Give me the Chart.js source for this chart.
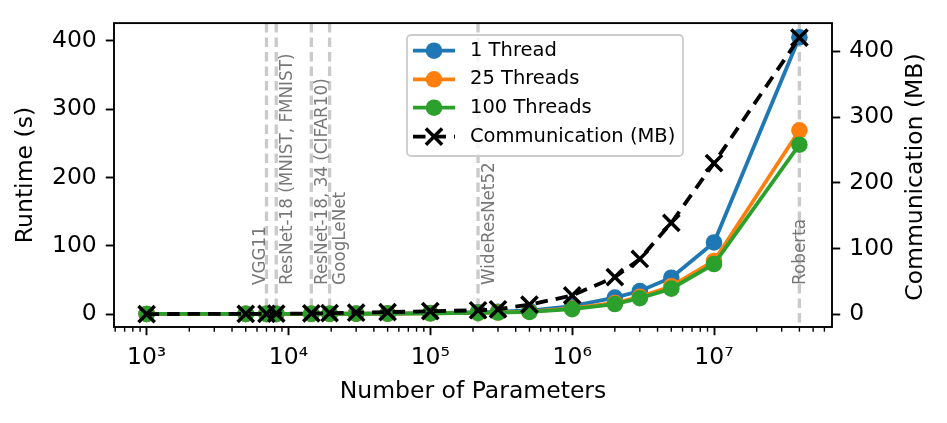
<!DOCTYPE html>
<html>
<head>
<meta charset="utf-8">
<script src="https://cdn.jsdelivr.net/npm/chart.js@4.4.1/dist/chart.umd.min.js"></script>
<style>
  html, body { margin: 0; padding: 0; background: #fff; }
  canvas { display: block; }
</style>
</head>
<body>
<canvas id="chart" width="947" height="423"></canvas>
<script>
// number of model parameters (x axis)
const params = [1000, 5000, 7000, 8200, 14500, 19500, 30000, 50000, 100000, 217000, 300000, 500000, 1000000, 2000000, 3000000, 5000000, 10000000, 40000000]

// runtime in seconds
const runtime1 = [0.5, 0.6, 0.6, 0.6, 0.7, 0.8, 0.9, 1.1, 1.8, 3.0, 3.8, 5.5, 12.0, 24.5, 34.0, 53.5, 105.0, 405.0]
const runtime25 = [0.5, 0.6, 0.6, 0.6, 0.7, 0.7, 0.8, 1.0, 1.4, 2.2, 2.8, 4.0, 8.5, 16.5, 25.5, 41.0, 78.0, 269.0]
const runtime100 = [0.5, 0.6, 0.6, 0.6, 0.7, 0.7, 0.8, 0.9, 1.3, 2.0, 2.5, 3.5, 7.5, 15.0, 23.5, 37.5, 73.5, 248.0]

// communication in MB (right axis)
const commMB = [0.2, 0.5, 0.6, 0.7, 1.1, 1.5, 2.2, 3.2, 4.5, 6.0, 7.5, 14.5, 28.5, 56.5, 84.0, 139.0, 230.0, 421.0]

// reference models marked with vertical lines
const modelNames = ["VGG11", "ResNet-18 (MNIST, FMNIST)", "ResNet-18, 34 (CIFAR10)", "GoogLeNet", "WideResNet52", "Roberta"]
const modelParams = [7000, 8200, 14500, 19500, 217000, 40000000]
const modelLabelAt = [5300, 8200, 14500, 19500, 217000, 33800000]
const modelLabelRuntime = 43

// ticks
const xTickValues = [1e3, 1e4, 1e5, 1e6, 1e7]
const xTickLabels = ["10³", "10⁴", "10⁵", "10⁶", "10⁷"]
const yTicks = [0, 100, 200, 300, 400]

const FONT = "DejaVu Sans"
Chart.defaults.font.family = FONT
Chart.defaults.color = "#000"

const toPoints = ys => params.map((x, i) => ({ x: x, y: ys[i] }))

// vertical dashed lines + rotated model names
const modelLines = {
  id: "modelLines",
  beforeDatasetsDraw(chart) {
    const { ctx, chartArea, scales } = chart
    ctx.save()
    ctx.strokeStyle = "rgba(128,128,128,0.42)"
    ctx.lineWidth = 3.3
    ctx.setLineDash([9.5, 5])
    modelParams.forEach(v => {
      const x = scales.x.getPixelForValue(v)
      ctx.beginPath()
      ctx.moveTo(x, chartArea.top)
      ctx.lineTo(x, chartArea.bottom)
      ctx.stroke()
    })
    ctx.setLineDash([])
    ctx.fillStyle = "#777"
    ctx.font = "16.8px '" + FONT + "'"
    ctx.textAlign = "left"
    ctx.textBaseline = "top"
    const y = scales.y.getPixelForValue(modelLabelRuntime)
    modelNames.forEach((name, i) => {
      // text box starts at the anchor, like a left-aligned rotated label
      const x = scales.x.getPixelForValue(modelLabelAt[i]) + 3
      ctx.save()
      ctx.translate(x, y)
      ctx.rotate(-Math.PI / 2)
      ctx.fillText(name, 0, 0)
      ctx.restore()
    })
    ctx.restore()
  }
}

// minor log ticks, frame, right axis title, legend box
const decorations = {
  id: "decorations",
  afterDraw(chart) {
    const { ctx, chartArea, scales } = chart
    const xs = scales.x
    ctx.save()

    // minor ticks
    ctx.strokeStyle = "#000"
    ctx.lineWidth = 1.4
    for (let e = 2; e <= 7; e++) {
      for (let k = 2; k <= 9; k++) {
        const v = k * Math.pow(10, e)
        if (v < xs.min || v > xs.max) continue
        const x = xs.getPixelForValue(v)
        ctx.beginPath()
        ctx.moveTo(x, chartArea.bottom)
        ctx.lineTo(x, chartArea.bottom + 4.7)
        ctx.stroke()
      }
    }

    // frame
    ctx.lineWidth = 1.9
    ctx.strokeRect(chartArea.left, chartArea.top, chartArea.right - chartArea.left, chartArea.bottom - chartArea.top)

    // right axis title (reads bottom to top)
    ctx.save()
    ctx.font = "23.5px '" + FONT + "'"
    ctx.fillStyle = "#000"
    ctx.textAlign = "center"
    ctx.textBaseline = "middle"
    ctx.translate(916, (chartArea.top + chartArea.bottom) / 2 + 2)
    ctx.rotate(-Math.PI / 2)
    ctx.fillText("Communication (MB)", 0, 0)
    ctx.restore()

    // legend
    const bx = 407, by = 35, bw = 276, bh = 121
    ctx.beginPath()
    ctx.roundRect(bx, by, bw, bh, 4)
    ctx.fillStyle = "rgba(255,255,255,0.8)"
    ctx.fill()
    ctx.strokeStyle = "#cccccc"
    ctx.lineWidth = 1.8
    ctx.stroke()

    const rows = [50.7, 79.3, 107.7, 136.7]
    ctx.font = "19.5px '" + FONT + "'"
    ctx.textAlign = "left"
    ctx.textBaseline = "middle"
    chart.data.datasets.forEach((ds, i) => {
      const y = rows[i]
      ctx.strokeStyle = ds.borderColor
      ctx.lineWidth = ds.borderWidth
      ctx.setLineDash(ds.borderDash || [])
      ctx.beginPath()
      ctx.moveTo(413, y)
      ctx.lineTo(455, y)
      ctx.stroke()
      ctx.setLineDash([])
      if (ds.pointStyle === "crossRot") {
        const h = ds.pointRadius * Math.SQRT1_2
        ctx.lineWidth = ds.pointBorderWidth
        ctx.beginPath()
        ctx.moveTo(434 - h, y - h); ctx.lineTo(434 + h, y + h)
        ctx.moveTo(434 - h, y + h); ctx.lineTo(434 + h, y - h)
        ctx.stroke()
      } else {
        ctx.fillStyle = ds.pointBackgroundColor
        ctx.beginPath()
        ctx.arc(434, y, ds.pointRadius, 0, Math.PI * 2)
        ctx.fill()
      }
      ctx.fillStyle = "#000"
      ctx.fillText(ds.label, 470, y)
    })
    ctx.restore()
  }
}

const tickGrid = {
  display: true,
  drawOnChartArea: false,
  drawTicks: true,
  tickLength: 8.2,
  tickWidth: 1.9,
  tickColor: "#000"
}

const circleSeries = (label, color, ys, order) => ({
  label: label,
  data: toPoints(ys),
  borderColor: color,
  backgroundColor: color,
  pointBackgroundColor: color,
  borderWidth: 3.8,
  pointRadius: 8.3,
  pointBorderWidth: 0,
  yAxisID: "y",
  order: order
})

new Chart(document.getElementById("chart"), {
  type: "line",
  data: {
    datasets: [
      circleSeries("1 Thread", "#1f77b4", runtime1, 4),
      circleSeries("25 Threads", "#ff7f0e", runtime25, 3),
      circleSeries("100 Threads", "#2ca02c", runtime100, 2),
      {
        label: "Communication (MB)",
        data: toPoints(commMB),
        borderColor: "#000",
        backgroundColor: "#000",
        pointBackgroundColor: "#000",
        pointBorderColor: "#000",
        borderWidth: 3.8,
        borderDash: [12.5, 8],
        pointStyle: "crossRot",
        pointRadius: 11.5,
        pointBorderWidth: 3.5,
        yAxisID: "y2",
        order: 1
      }
    ]
  },
  options: {
    responsive: false,
    animation: false,
    devicePixelRatio: 1,
    layout: { padding: { top: 17, left: 0, right: 0, bottom: 0 } },
    plugins: {
      legend: { display: false },
      tooltip: { enabled: false }
    },
    elements: { line: { tension: 0 } },
    scales: {
      x: {
        type: "logarithmic",
        min: 589,
        max: 6.79e7,
        grid: tickGrid,
        border: { display: false },
        afterBuildTicks: s => { s.ticks = xTickValues.map(v => ({ value: v })) },
        afterFit: s => { s.height = 96 },
        ticks: {
          font: { size: 23.5 },
          padding: 9,
          maxRotation: 0,
          autoSkip: false,
          callback: v => xTickLabels[xTickValues.indexOf(v)]
        },
        title: {
          display: true,
          text: "Number of Parameters",
          font: { size: 23.5 },
          padding: { top: 0, bottom: 17 }
        }
      },
      y: {
        position: "left",
        min: -18.6,
        max: 425.8,
        grid: tickGrid,
        border: { display: false },
        afterBuildTicks: s => { s.ticks = yTicks.map(v => ({ value: v })) },
        afterFit: s => { s.width = 114 },
        ticks: { font: { size: 23.5 }, padding: 9 },
        title: {
          display: true,
          text: "Runtime (s)",
          font: { size: 23.5 },
          padding: { top: 12, bottom: 0 }
        }
      },
      y2: {
        position: "right",
        min: -19.5,
        max: 443,
        grid: tickGrid,
        border: { display: false },
        afterBuildTicks: s => { s.ticks = yTicks.map(v => ({ value: v })) },
        afterFit: s => { s.width = 115 },
        ticks: { font: { size: 23.5 }, padding: 9 }
      }
    }
  },
  plugins: [modelLines, decorations]
})
</script>
</body>
</html>
